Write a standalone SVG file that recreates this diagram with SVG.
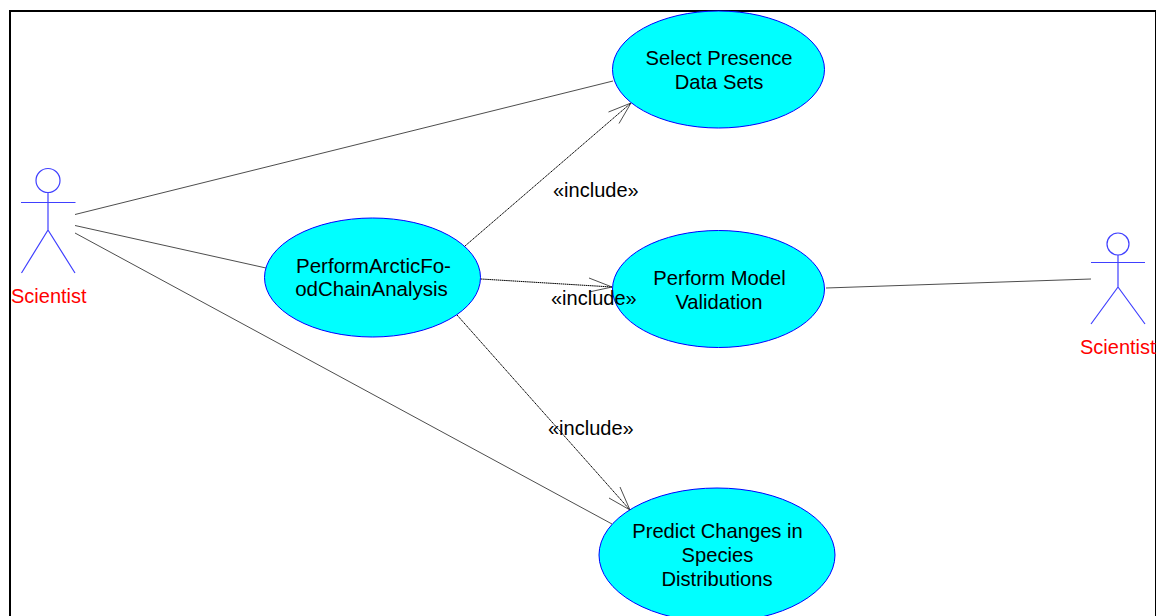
<svg xmlns="http://www.w3.org/2000/svg" width="1156" height="616" viewBox="0 0 1156 616">
<style>
text{font-family:"Liberation Sans",Arial,sans-serif;font-size:20px;fill:#000}
.t{text-anchor:middle;font-size:20.2px}
.w{font-size:20.5px}
.uc{fill:#00ffff;stroke:#0000ff;stroke-width:1}
.actor{fill:none;stroke:#4040ff;stroke-width:1.2}
.name{fill:#ff0000}
.assoc{fill:none;stroke:#202020;stroke-width:.8}
.inc{fill:none;stroke:#000;stroke-width:1;stroke-dasharray:1.6 .5}
.head{fill:none;stroke:#202020;stroke-width:.8}
</style>
<rect width="1156" height="616" fill="#fff"/>
<path d="M10 616V11H1156" fill="none" stroke="#000" stroke-width="2"/>
<rect x="1155" y="10" width="1" height="606" fill="#000"/>
<g id="connectors">
<path class="assoc" d="M75 214.500L613 81"/>
<path class="assoc" d="M75 225.500L266 268"/>
<path class="assoc" d="M75 233L612 524"/>
<path class="assoc" d="M826 288L1091 279"/>
<path class="inc" d="M465 246L631 103"/>
<path class="head" d="M608.500 112L631 103L619 123.500"/>
<path class="inc" d="M481 279L612 287"/>
<path class="head" d="M589 278L612 287L589 292"/>
<path class="inc" d="M457 315L630 510"/>
<path class="head" d="M609 498L630 510L620 487"/>
</g>
<g id="actor-left">
<circle class="actor" cx="48" cy="180.500" r="12"/>
<path class="actor" d="M48 193V230M21 202.500H75.500M48 230L21.500 273M48 230L75 273"/>
<text class="name" x="11" y="303">Scientist</text>
</g>
<g id="actor-right">
<circle class="actor" cx="1118" cy="244" r="11"/>
<path class="actor" d="M1118 255V287M1091 262.500H1145M1118 287L1091 324M1118 287L1145 324"/>
<text class="name" x="1080" y="354">Scientist</text>
</g>
<g id="uc-analysis">
<ellipse class="uc" cx="372.500" cy="277.500" rx="108" ry="59.500"/>
<text class="t w" x="373.500" y="273">PerformArcticFo-</text>
<text class="t w" x="371.500" y="296">odChainAnalysis</text>
</g>
<g id="uc-select">
<ellipse class="uc" cx="718.500" cy="69.500" rx="106" ry="58.500"/>
<text class="t" x="719" y="65">Select Presence</text>
<text class="t" x="719" y="89">Data Sets</text>
</g>
<g id="uc-validation">
<ellipse class="uc" cx="718.500" cy="289" rx="106" ry="58.500"/>
<text class="t" x="719.500" y="285">Perform Model</text>
<text class="t" x="719" y="309">Validation</text>
</g>
<g id="uc-predict">
<ellipse class="uc" cx="717" cy="555" rx="118" ry="67"/>
<text class="t" x="717.500" y="538">Predict Changes in</text>
<text class="t" x="717.500" y="562">Species</text>
<text class="t" x="717" y="586">Distributions</text>
</g>
<g id="labels">
<text x="553" y="197">«include»</text>
<text x="551" y="305">«include»</text>
<text x="548" y="435">«include»</text>
</g>
</svg>
